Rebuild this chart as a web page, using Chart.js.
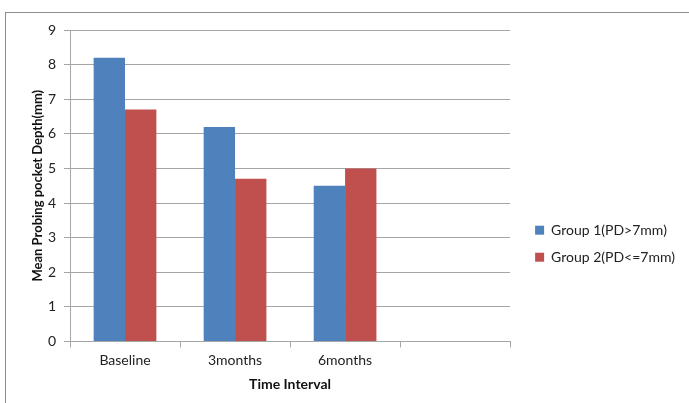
<!DOCTYPE html>
<html>
<head>
<meta charset="utf-8">
<script src="https://cdn.jsdelivr.net/npm/chart.js@4"></script>
<style>
  html, body { margin: 0; padding: 0; background: #fff; }
  #wrap { position: relative; width: 689px; height: 403px; overflow: hidden; }
  #frame { position: absolute; left: 5px; top: 12px; width: 720px; height: 420px; border: 1px solid #8c8c8c; }
  canvas { position: absolute; left: 0; top: 0; }
</style>
</head>
<body>
<div id="wrap">
  <div id="frame"></div>
  <canvas id="chart" width="689" height="403"></canvas>
</div>
<script>
const categories = ['Baseline', '3months', '6months', ''];
const group1 = [8.2, 6.2, 4.5, null];
const group2 = [6.7, 4.7, 5.0, null];
const yTicks = [0, 1, 2, 3, 4, 5, 6, 7, 8, 9];

const gridColor = '#a6a6a6';
const font = "Lato, 'Liberation Sans', sans-serif";
const legendGap = 12;

// leaves some white space between the plot and the legend
const legendSpacer = {
  id: 'legendSpacer',
  beforeLayout(chart) {
    const lg = chart.legend;
    if (!lg || lg._spaced) return;
    const fit = lg.fit;
    lg.fit = function () {
      fit.call(this);
      this.width += legendGap;
    };
    lg._spaced = true;
  },
  afterLayout(chart) {
    if (chart.legend) chart.legend.left += legendGap;
  }
};

const ctx = document.getElementById('chart').getContext('2d');
new Chart(ctx, {
  type: 'bar',
  data: {
    labels: categories,
    datasets: [{
      label: 'Group 1(PD>7mm)',
      data: group1,
      backgroundColor: '#4f81bd',
      categoryPercentage: 0.57,
      barPercentage: 1
    }, {
      label: 'Group 2(PD<=7mm)',
      data: group2,
      backgroundColor: '#c0504d',
      categoryPercentage: 0.57,
      barPercentage: 1
    }]
  },
  plugins: [legendSpacer],
  options: {
    responsive: false,
    animation: false,
    layout: { padding: { top: 30, left: 30, right: 4, bottom: 10 } },
    plugins: {
      tooltip: { enabled: false },
      legend: {
        position: 'right',
        // empty title only pushes the legend items down
        title: { display: true, text: '', font: { size: 12 }, padding: { top: 25, bottom: 25 } },
        labels: {
          boxWidth: 9,
          boxHeight: 9,
          padding: 13,
          color: '#222',
          font: { family: font, size: 14 }
        }
      }
    },
    scales: {
      x: {
        grid: { display: true, drawOnChartArea: false, color: gridColor, tickLength: 6, offset: true },
        border: { color: gridColor },
        ticks: { color: '#222', font: { family: font, size: 14 }, padding: 5 },
        title: { display: true, text: 'Time Interval', color: '#111', font: { family: font, size: 14, weight: 'bold' }, padding: { top: 2, bottom: 0 } }
      },
      y: {
        min: 0,
        max: 9,
        afterBuildTicks: axis => { axis.ticks = yTicks.map(v => ({ value: v })); },
        afterFit: s => { s.width = 40; },
        grid: { color: gridColor, tickLength: 6 },
        border: { color: gridColor },
        ticks: { color: '#222', font: { family: font, size: 14 }, padding: 8 },
        title: { display: true, text: 'Mean Probing pocket Depth(mm)', color: '#111', font: { family: font, size: 13, weight: 'bold' }, padding: { top: 0, bottom: 2 } }
      }
    }
  }
});
</script>
</body>
</html>
